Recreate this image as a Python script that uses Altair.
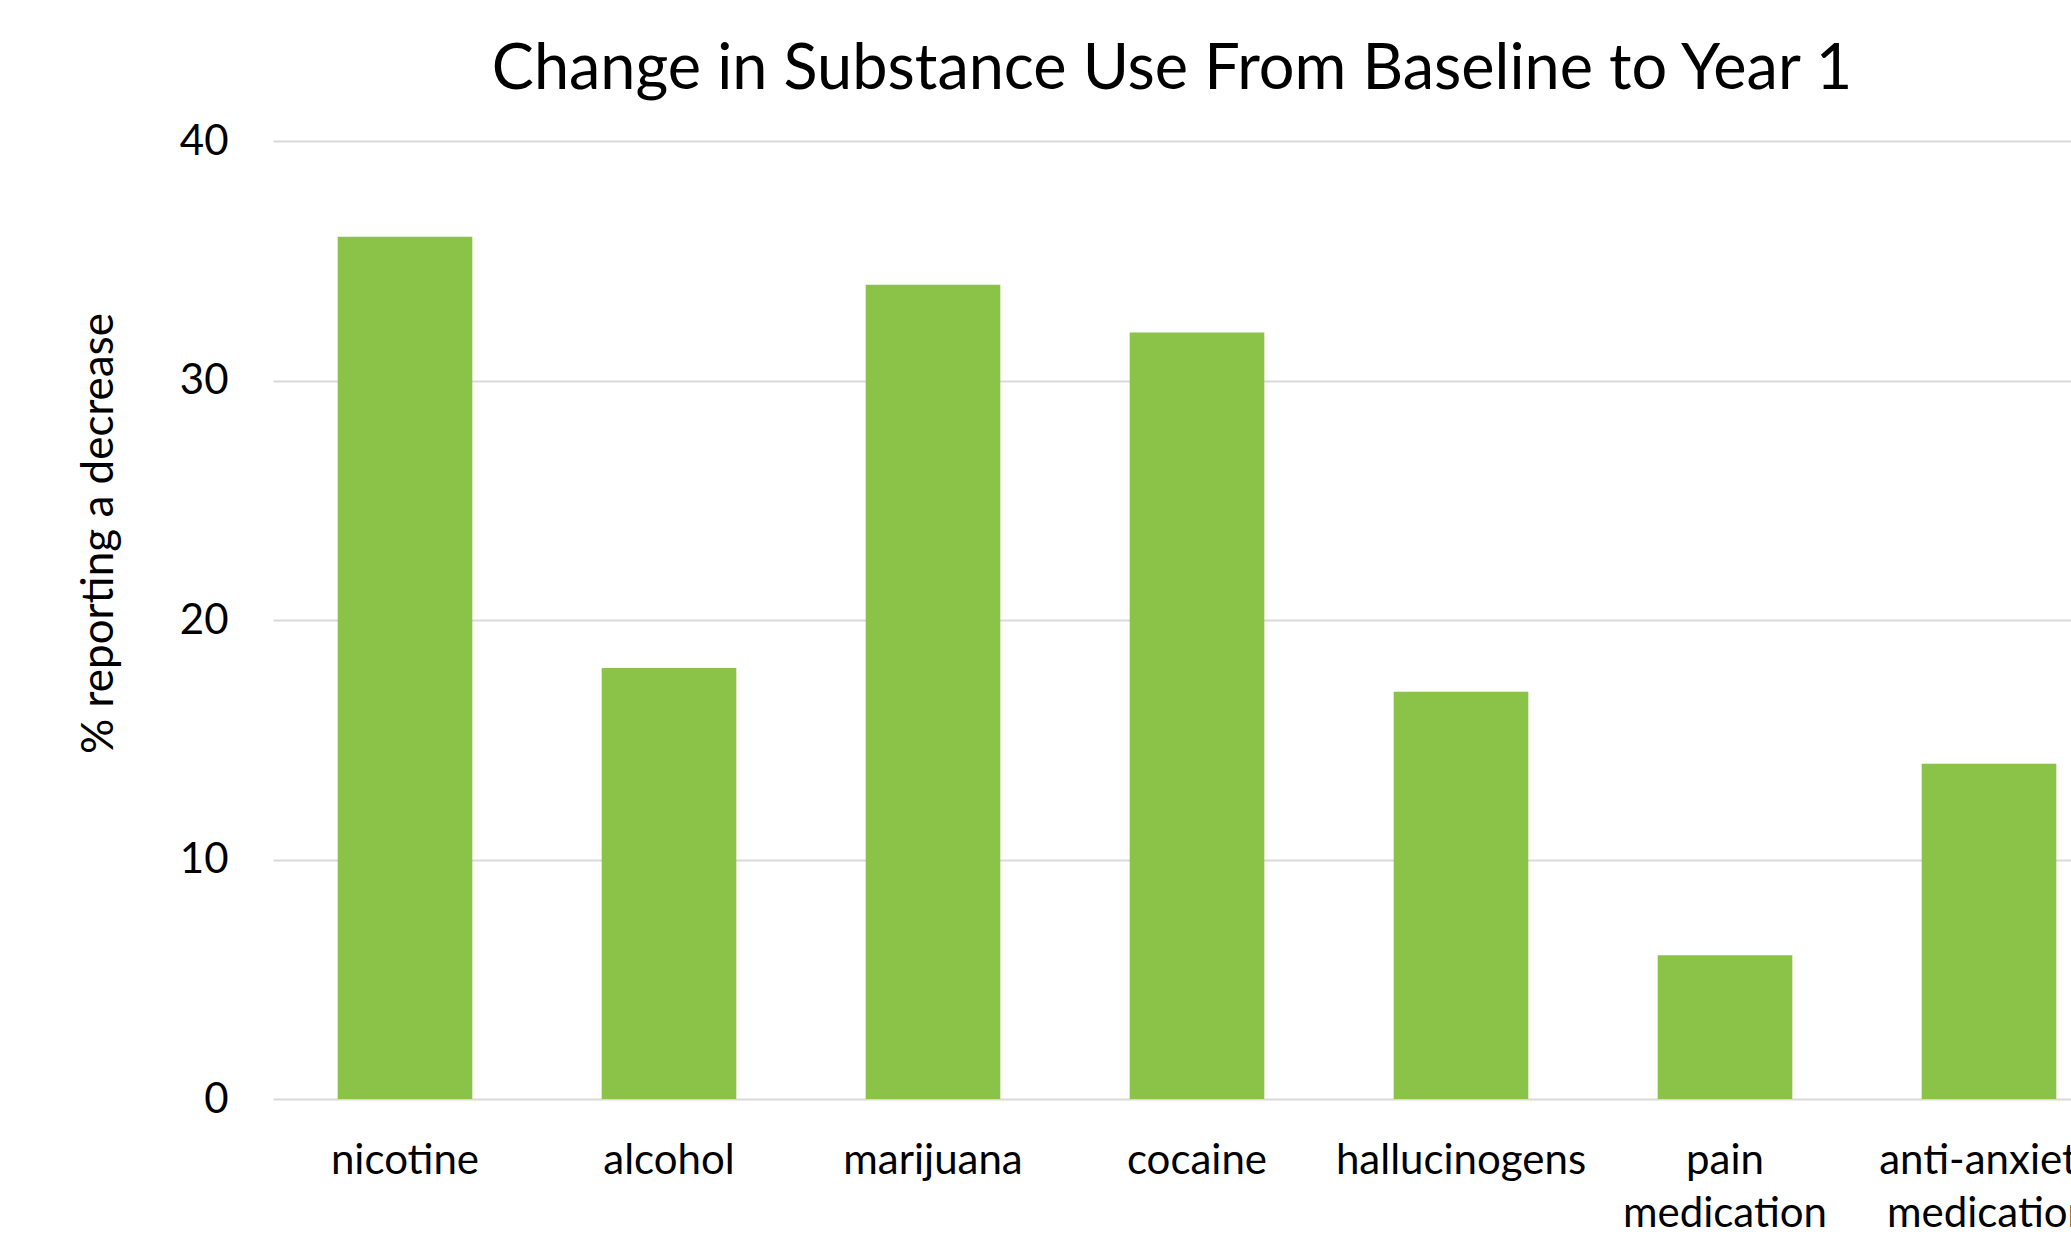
import altair as alt
import pandas as pd

# Share of respondents reporting a decrease, by substance
substances = [
    "nicotine",
    "alcohol",
    "marijuana",
    "cocaine",
    "hallucinogens",
    "pain medication",
    "anti-anxiety medication",
]
pct_decrease = [36, 18, 34, 32, 17, 6, 14]

df = pd.DataFrame({"substance": substances, "pct": pct_decrease})

FONT = "Lato"
BAR_COLOR = "#8BC248"
GRID_COLOR = "#D9D9D9"

PLOT_W = 1798
PLOT_H = 958
BAND_RANGE = 1848  # the category band runs a little past the right edge

chart = (
    alt.Chart(df)
    .mark_bar(color=BAR_COLOR)
    .encode(
        x=alt.X(
            "substance:N",
            sort=substances,
            scale=alt.Scale(range=[0, BAND_RANGE], paddingInner=0.49, paddingOuter=0.245),
            axis=alt.Axis(
                title=None,
                labelExpr="split(datum.label, ' ')",
                labelAngle=0,
                labelFont=FONT,
                labelFontSize=42,
                labelColor="#000000",
                labelPadding=41,
                labelLineHeight=53,
                labelBaseline="top",
                labelOverlap=False,
                labelBound=False,
                labelFlush=False,
                labelLimit=0,
                domain=False,
                ticks=False,
                grid=False,
            ),
        ),
        y=alt.Y(
            "pct:Q",
            scale=alt.Scale(domain=[0, 40], nice=False),
            axis=alt.Axis(
                title="% reporting a decrease",
                values=[0, 10, 20, 30, 40],
                format="d",
                labelFont=FONT,
                labelFontSize=42,
                labelColor="#000000",
                labelPadding=45,
                domain=False,
                ticks=False,
                grid=True,
                gridColor=GRID_COLOR,
                gridWidth=2,
                titleFont=FONT,
                titleFontSize=44,
                titleFontWeight="normal",
                titleColor="#000000",
                titleAngle=270,
                titleAlign="center",
                titleBaseline="middle",
                titleX=-174,
                titleY=392,
            ),
        ),
    )
    .properties(
        width=PLOT_W,
        height=PLOT_H,
        background="#FFFFFF",
        title=alt.TitleParams(
            "Change in Substance Use From Baseline to Year 1",
            font=FONT,
            fontSize=63,
            fontWeight="normal",
            color="#000000",
            anchor="middle",
            baseline="alphabetic",
            offset=49,
            dy=81,
        ),
        autosize=alt.AutoSizeParams(type="none"),
        padding={"left": 273, "top": 141, "right": 0, "bottom": 136},
    )
    .configure_view(strokeWidth=0, stroke="transparent")
)

chart.save("out.html", embed_options={"renderer": "svg", "actions": False})
